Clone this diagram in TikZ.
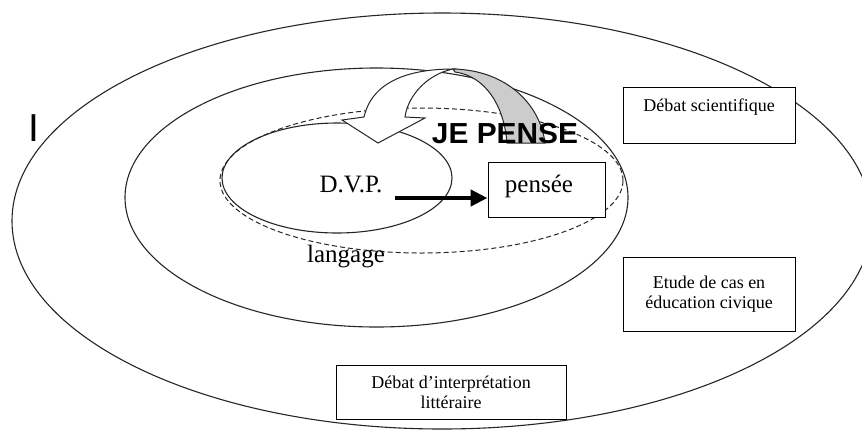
\documentclass[tikz,border=0pt]{standalone}
\usepackage{fontspec}
\setmainfont{Liberation Serif}
\newfontfamily\heavyfont{Liberation Sans Bold}
\newfontfamily\plainsans{Liberation Sans}
\usetikzlibrary{arrows.meta}
\begin{document}
\begin{tikzpicture}[x=1pt,y=-1pt,
  ring/.style={draw=black!85, line width=1.1pt},
  dashring/.style={draw=black!85, line width=1pt, dash pattern=on 5pt off 3pt},
  textbox/.style={draw, line width=1pt, fill=white, align=center, inner sep=0pt,
    font=\fontsize{18}{20}\selectfont},
  lbl/.style={inner sep=0pt, anchor=base, font=\fontsize{25}{28}\selectfont},
  ribbon/.style={draw=black!85, line width=1pt}]
\useasboundingbox (0,0) rectangle (862,432);
% rings
\draw[ring] (442,221) ellipse [x radius=430pt, y radius=208pt];
\draw[ring] (376.5,197.5) ellipse [x radius=251.5pt, y radius=129.5pt];
\draw[dashring] (421.5,180.5) ellipse [x radius=201.5pt, y radius=72.5pt];
\draw[ring] (337,178) ellipse [x radius=115pt, y radius=55pt];
% curved arrow
\draw[ribbon, fill=white] (378,143) -- (342,120) -- (364,117)
  .. controls (372,82) and (408,69) .. (453,69)
  .. controls (428,74) and (408,95) .. (405,117) -- (425,118) -- cycle;
\draw[ribbon, fill=black!20] (453,69) .. controls (505,70) and (540,103) .. (545,143)
  -- (507,143) .. controls (504,105) and (485,76) .. (455,72) -- cycle;
\node[inner sep=0pt, font=\heavyfont\fontsize{29}{30}\selectfont, xscale=1.03] (je) at (505,134) {JE PENSE};
% labels
\node[lbl] (dvp) at (351,192) {D.V.P.};
\node[lbl] (lang) at (346,262) {langage};
\node[textbox, minimum width=117pt, minimum height=55pt, font=\fontsize{25}{28}\selectfont] (pen) at (546.5,189.5) {};
\node[lbl] (pentxt) at (539,192) {pensée};
\coordinate (a0) at (395,198);
\draw[line width=4.5pt, -{Triangle[length=17pt,width=16pt]}] (a0) -- (pen.west |- a0);
% boxes
\node[textbox, minimum width=172pt, minimum height=56pt] (ds) at (709,115) {Débat scientifique\\\mbox{}};
\node[textbox, minimum width=172pt, minimum height=74pt] (ec) at (709,294) {Etude de cas en\\éducation civique};
\node[textbox, minimum width=230pt, minimum height=54pt] (di) at (451,392) {Débat d’interprétation\\littéraire};
% stray mark
\node[inner sep=0pt, anchor=base, font=\plainsans\fontsize{39}{40}\selectfont] (mark) at (34,141) {I};
\end{tikzpicture}
\end{document}
